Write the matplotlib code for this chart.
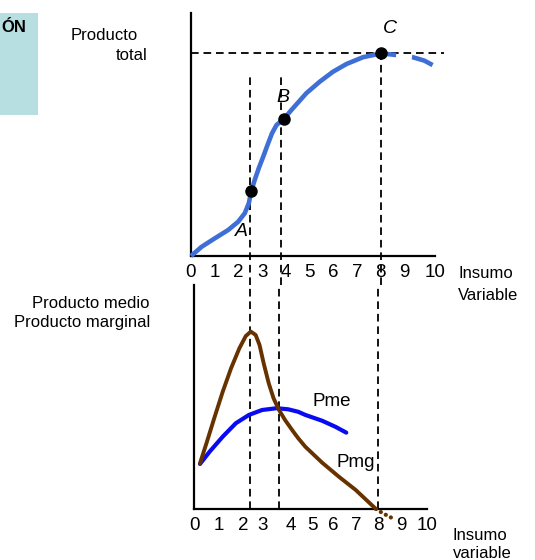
import matplotlib
matplotlib.use("Agg")
import matplotlib.pyplot as plt
from matplotlib.patches import Rectangle

plt.rcParams["font.family"] = ["Liberation Sans", "DejaVu Sans"]
plt.rcParams["lines.scale_dashes"] = False

# Producto total (upper panel)
pt_x = [0, 0.45, 1.01, 1.57, 1.99, 2.27, 2.44, 2.55, 2.69, 2.86, 3.05, 3.23, 3.42,
        3.61, 3.92, 4.24, 4.87, 5.43, 5.99, 6.56, 7.26, 8.03, 8.66]
pt_y = [0, 3.8, 7.3, 10.7, 14.1, 17.6, 21.7, 26.9, 31.3, 36.1, 40.9, 45.7, 50.5,
        53.9, 56.4, 60.1, 67.0, 71.7, 75.8, 79.0, 81.8, 83.4, 82.7]
pt_tail_x = [8.66, 9.36, 9.85, 10.27]
pt_tail_y = [82.7, 81.8, 80.4, 78.2]

# points A, B, C
abc_labels = ["A", "B", "C"]
abc_x = [2.55, 3.92, 8.03]
abc_y = [26.9, 56.4, 83.4]

# Producto marginal (lower panel)
pmg_x = [0.26, 0.54, 0.90, 1.25, 1.61, 1.97, 2.25, 2.47, 2.68, 2.85, 3.03, 3.25,
         3.46, 3.68, 3.96, 4.32, 4.53, 4.84, 5.57, 6.30, 7.03, 7.91]
pmg_y = [20.4, 29.3, 41.2, 52.4, 62.8, 71.7, 77.2, 79.2, 77.7, 73.2, 65.0, 56.1,
         49.4, 44.5, 39.7, 34.5, 31.6, 27.8, 20.7, 14.4, 8.5, 0]
pmg_tail_x = [7.91, 8.21, 8.64]
pmg_tail_y = [0, -1.9, -4.2]

# Producto medio (lower panel)
pme_x = [0.26, 0.68, 1.25, 1.82, 2.39, 2.96, 3.60, 4.10, 4.53, 4.84, 5.57, 6.15, 6.62]
pme_y = [20.1, 25.6, 32.3, 38.3, 42.0, 44.2, 45.0, 44.5, 43.4, 42.0, 39.4, 36.7, 34.1]

# guide lines (stage limits)
top_guides = [2.48, 3.78, 8.0]
bot_guides = [2.42, 3.71, 8.0]

top_ticks = [0, 1, 2, 3, 4, 5, 6, 7, 8, 9, 10.3]
bot_ticks = [0, 1.08, 2.16, 2.99, 4.2, 5.15, 6.06, 7.06, 8.0, 9.0, 10.13]
tick_labels = ["0", "1", "2", "3", "4", "5", "6", "7", "8", "9", "10"]

W, H = 535, 560
fig = plt.figure(figsize=(W / 100, H / 100), dpi=100)


def fx(x):
    return x / W


def fy(y):
    return 1 - y / H


def px_axes(left, top, right, bottom):
    return fig.add_axes([fx(left), fy(bottom), (right - left) / W, (bottom - top) / H])


ax1 = px_axes(191, 13, 435, 256)
ax2 = px_axes(194, 285, 427, 509)
ax1.set_xlim(0, 10.27)
ax1.set_ylim(0, 100)
ax2.set_xlim(0, 9.96)
ax2.set_ylim(0, 100)

for ax, ticks in [(ax1, top_ticks), (ax2, bot_ticks)]:
    for s in ["top", "right"]:
        ax.spines[s].set_visible(False)
    for s in ["left", "bottom"]:
        ax.spines[s].set_linewidth(1.6)
        ax.spines[s].set_color("black")
    ax.set_yticks([])
    ax.set_xticks(ticks)
    ax.set_xticklabels(tick_labels)
    ax.tick_params(axis="x", length=0, labelsize=13.5, pad=6)
    ax.patch.set_visible(False)

dash = (0, (5.5, 3.5))
blue = "#3f6fd6"

# upper panel
ax1.plot(pt_x, pt_y, color=blue, lw=3.3, solid_capstyle="butt", solid_joinstyle="round",
         clip_on=False, zorder=4)
ax1.plot(pt_tail_x, pt_tail_y, color=blue, lw=3.3, ls=(16, (16, 11.5)),
         dash_capstyle="butt", clip_on=False, zorder=4)
ax1.plot(abc_x, abc_y, "o", color="black", ms=8, zorder=5, clip_on=False)
ax1.hlines(abc_y[2], 0, 10.7, colors="black", lw=1.3, linestyles=dash, clip_on=False)
ax1.vlines(top_guides[:2], -11.9, 74.9, colors="black", lw=1.3, linestyles=dash,
           clip_on=False, zorder=3)
ax1.vlines(top_guides[2], -11.9, abc_y[2], colors="black", lw=1.3, linestyles=dash,
           clip_on=False, zorder=3)
label_off = [(-0.4, -17.0), (-0.05, 9.0), (0.35, 10.4)]
for lab, x, y, (dx, dy) in zip(abc_labels, abc_x, abc_y, label_off):
    ax1.text(x + dx, y + dy, lab, style="italic", fontsize=14, ha="center", va="center")

# lower panel
ax2.vlines(bot_guides, 0, 100, colors="black", lw=1.3, linestyles=dash, zorder=3)
ax2.plot(pme_x, pme_y, color="#0a0af0", lw=3, solid_capstyle="round",
         solid_joinstyle="round", zorder=4)
ax2.plot(pmg_x, pmg_y, color="#663300", lw=2.8, solid_capstyle="round",
         solid_joinstyle="round", zorder=4)
ax2.plot(pmg_tail_x, pmg_tail_y, color="#663300", lw=3, ls=(0, (0.1, 4)),
         dash_capstyle="round", clip_on=False, zorder=4)
ax2.text(5.98, 47.9, "Pme", fontsize=13.5, ha="center", va="center")
ax2.text(7.03, 20.7, "Pmg", fontsize=13.5, ha="center", va="center")

# left box (cut-off slide title)
fig.patches.append(Rectangle((0, fy(115)), fx(38), (115 - 13) / H, transform=fig.transFigure,
                             facecolor="#b7dfe1", edgecolor="none", zorder=0))
fig.text(fx(1), fy(28), "ÓN", fontsize=12, fontweight="bold", ha="left", va="center")

# axis titles
fig.text(fx(138), fy(35), "Producto", fontsize=12, ha="right", va="center")
fig.text(fx(147), fy(55), "total", fontsize=12, ha="right", va="center")
fig.text(fx(150), fy(303), "Producto medio", fontsize=12, ha="right", va="center")
fig.text(fx(150), fy(323), "Producto marginal", fontsize=12, ha="right", va="center")
fig.text(fx(459), fy(274), "Insumo", fontsize=12, ha="left", va="center")
fig.text(fx(458), fy(295), "Variable", fontsize=12, ha="left", va="center")
fig.text(fx(453), fy(535), "Insumo", fontsize=12, ha="left", va="center")
fig.text(fx(453), fy(554), "variable", fontsize=12, ha="left", va="center")

fig.savefig("out.png", dpi=100)
